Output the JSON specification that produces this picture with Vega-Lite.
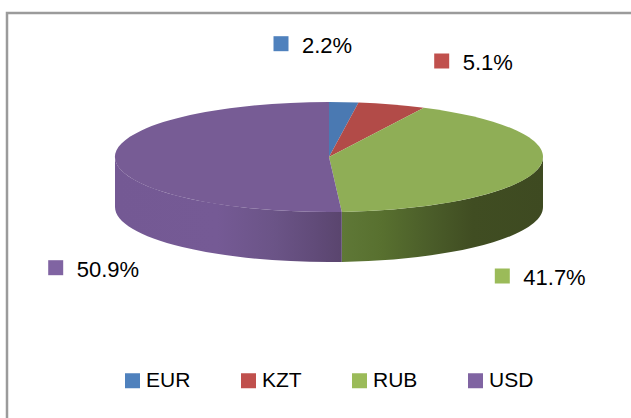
{
  "$schema": "https://vega.github.io/schema/vega-lite/v6.json",
  "autosize": {"type": "none"},
  "width": 634,
  "height": 415,
  "padding": {"left": 7, "top": 13, "right": -10, "bottom": -10},
  "background": "#ffffff",
  "data": {
    "values": [
      {"currency": "EUR", "share": 0.022},
      {"currency": "KZT", "share": 0.051},
      {"currency": "RUB", "share": 0.417},
      {"currency": "USD", "share": 0.509}
    ]
  },
  "layer": [
    {
      "transform": [{"filter": "datum.currency === 'RUB'"}],
      "mark": {
        "type": "point",
        "shape": "M214 0 A214 55 0 0 1 12.78 54.9 L12.78 104.9 A214 55 0 0 0 214 50 Z",
        "size": 4,
        "filled": true,
        "opacity": 1,
        "strokeWidth": 0,
        "fill": {
          "gradient": "linear", "x1": 0, "y1": 0, "x2": 1, "y2": 0,
          "stops": [
            {"offset": 0, "color": "#5f7837"},
            {"offset": 0.2, "color": "#58702f"},
            {"offset": 0.45, "color": "#4a5c29"},
            {"offset": 0.65, "color": "#404d22"},
            {"offset": 1, "color": "#3e4a21"}
          ]
        }
      },
      "encoding": {"x": {"value": 322}, "y": {"value": 144}}
    },
    {
      "transform": [{"filter": "datum.currency === 'USD'"}],
      "mark": {
        "type": "point",
        "shape": "M12.78 54.9 A214 55 0 0 1 -214 0 L-214 50 A214 55 0 0 0 12.78 104.9 Z",
        "size": 4,
        "filled": true,
        "opacity": 1,
        "strokeWidth": 0,
        "fill": {
          "gradient": "linear", "x1": 0, "y1": 0, "x2": 1, "y2": 0,
          "stops": [
            {"offset": 0, "color": "#745994"},
            {"offset": 0.45, "color": "#755a95"},
            {"offset": 0.7, "color": "#6b5487"},
            {"offset": 0.88, "color": "#614b79"},
            {"offset": 1, "color": "#5a456e"}
          ]
        }
      },
      "encoding": {"x": {"value": 322}, "y": {"value": 144}}
    },
    {
      "mark": {"type": "point", "size": 4, "filled": true, "opacity": 1, "strokeWidth": 0},
      "encoding": {
        "x": {"value": 322},
        "y": {"value": 144},
        "shape": {
          "field": "currency", "type": "nominal", "legend": null,
          "scale": {
            "range": [
              "M0 0 L0 -55 A214 55 0 0 1 29.52 -54.47 Z",
              "M0 0 L29.52 -54.47 A214 55 0 0 1 94.84 -49.3 Z",
              "M0 0 L94.84 -49.3 A214 55 0 0 1 12.78 54.9 Z",
              "M0 0 L12.78 54.9 A214 55 0 1 1 0 -55 Z"
            ]
          }
        },
        "fill": {
          "field": "currency", "type": "nominal", "legend": null,
          "scale": {"range": ["#4a79b2", "#b24b48", "#8fae56", "#775c95"]}
        }
      }
    },
    {
      "transform": [{"filter": "datum.currency === 'EUR'"}],
      "encoding": {"x": {"value": 295}, "y": {"value": 39.7}},
      "layer": [
        {
          "mark": {"type": "point", "shape": "square", "size": 225, "filled": true, "opacity": 1, "strokeWidth": 0, "xOffset": -21, "yOffset": -9},
          "encoding": {
            "color": {
              "field": "currency", "type": "nominal", "title": null,
              "scale": {"domain": ["EUR", "KZT", "RUB", "USD"], "range": ["#4f81bd", "#c0504d", "#9bbb59", "#8064a2"]},
              "legend": {
                "orient": "none", "legendX": 115, "legendY": 357, "direction": "horizontal",
                "symbolType": "square", "symbolSize": 225, "symbolStrokeWidth": 0, "symbolOpacity": 1,
                "labelFont": "Liberation Sans", "labelFontSize": 21, "labelColor": "#000000",
                "labelOffset": 3, "columnPadding": 47, "padding": 0
              }
            }
          }
        },
        {
          "mark": {"type": "text", "align": "left", "baseline": "alphabetic", "font": "Liberation Sans", "fontSize": 22, "color": "#000000"},
          "encoding": {"text": {"field": "share", "type": "quantitative", "format": ".1%"}}
        }
      ]
    },
    {
      "transform": [{"filter": "datum.currency === 'KZT'"}],
      "encoding": {"x": {"value": 455.7}, "y": {"value": 57}},
      "layer": [
        {
          "mark": {"type": "point", "shape": "square", "size": 225, "filled": true, "opacity": 1, "strokeWidth": 0, "xOffset": -21, "yOffset": -9},
          "encoding": {"color": {"field": "currency", "type": "nominal"}}
        },
        {
          "mark": {"type": "text", "align": "left", "baseline": "alphabetic", "font": "Liberation Sans", "fontSize": 22, "color": "#000000"},
          "encoding": {"text": {"field": "share", "type": "quantitative", "format": ".1%"}}
        }
      ]
    },
    {
      "transform": [{"filter": "datum.currency === 'RUB'"}],
      "encoding": {"x": {"value": 516.3}, "y": {"value": 272}},
      "layer": [
        {
          "mark": {"type": "point", "shape": "square", "size": 225, "filled": true, "opacity": 1, "strokeWidth": 0, "xOffset": -21, "yOffset": -9},
          "encoding": {"color": {"field": "currency", "type": "nominal"}}
        },
        {
          "mark": {"type": "text", "align": "left", "baseline": "alphabetic", "font": "Liberation Sans", "fontSize": 22, "color": "#000000"},
          "encoding": {"text": {"field": "share", "type": "quantitative", "format": ".1%"}}
        }
      ]
    },
    {
      "transform": [{"filter": "datum.currency === 'USD'"}],
      "encoding": {"x": {"value": 69.7}, "y": {"value": 263.7}},
      "layer": [
        {
          "mark": {"type": "point", "shape": "square", "size": 225, "filled": true, "opacity": 1, "strokeWidth": 0, "xOffset": -21, "yOffset": -9},
          "encoding": {"color": {"field": "currency", "type": "nominal"}}
        },
        {
          "mark": {"type": "text", "align": "left", "baseline": "alphabetic", "font": "Liberation Sans", "fontSize": 22, "color": "#000000"},
          "encoding": {"text": {"field": "share", "type": "quantitative", "format": ".1%"}}
        }
      ]
    }
  ],
  "config": {
    "view": {"stroke": "#9b9b9b", "strokeWidth": 2.5}
  }
}
